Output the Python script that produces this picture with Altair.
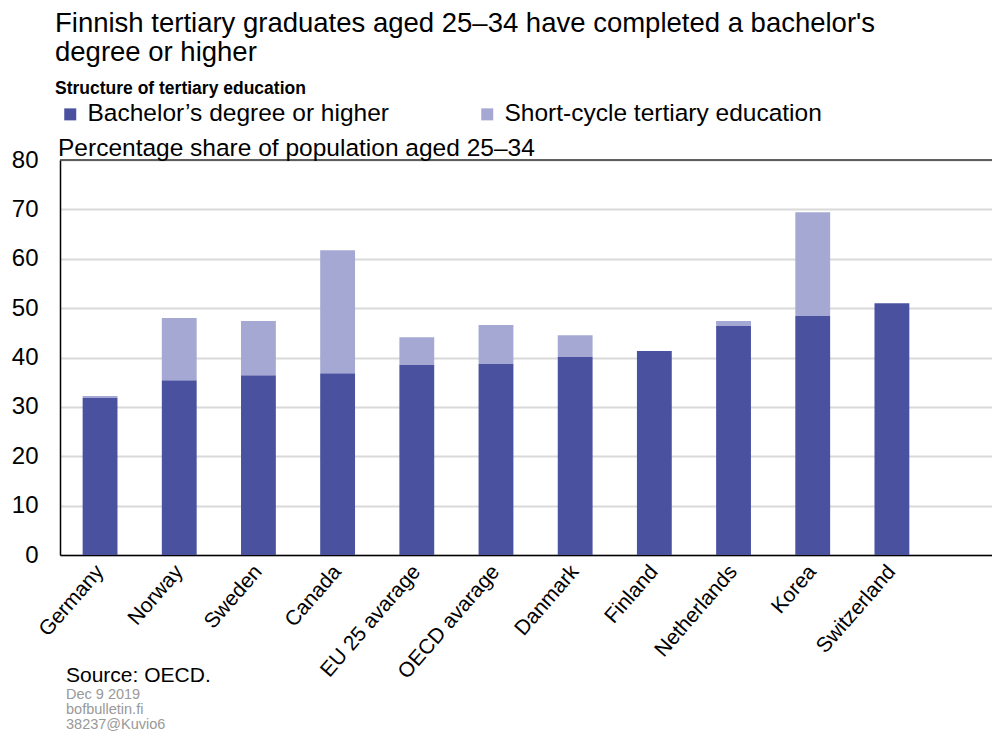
import altair as alt
import pandas as pd

countries = ["Germany", "Norway", "Sweden", "Canada", "EU 25 avarage", "OECD avarage",
             "Danmark", "Finland", "Netherlands", "Korea", "Switzerland"]
bachelor = [31.8, 35.4, 36.4, 36.8, 38.5, 38.7, 40.1, 41.3, 46.4, 48.4, 51.0]
short_cycle = [0.4, 12.6, 11.0, 24.9, 5.6, 7.9, 4.4, 0.0, 1.0, 21.0, 0.0]
series = ["Bachelor\u2019s degree or higher", "Short-cycle tertiary education"]
colors = ["#4a52a0", "#a4a8d3"]
y_ticks = [0, 10, 20, 30, 40, 50, 60, 70, 80]

rows = []
for c, b, s in zip(countries, bachelor, short_cycle):
    rows.append({"country": c, "series": series[0], "value": b, "ord": 0})
    rows.append({"country": c, "series": series[1], "value": s, "ord": 1})
df = pd.DataFrame(rows)

FONT = "Liberation Sans"

bars = alt.Chart(df).mark_bar().encode(
    x=alt.X("country:N", sort=countries,
            scale=alt.Scale(domain=countries, paddingInner=0.56, paddingOuter=0.665, align=0.215),
            axis=alt.Axis(title=None, labelAngle=-49, labelFontSize=21, labelColor="black",
                          labelFont=FONT, ticks=False, domainColor="black", domainWidth=1.5,
                          labelPadding=13, labelAlign="right", labelBaseline="middle")),
    y=alt.Y("value:Q", stack="zero",
            scale=alt.Scale(domain=[0, 80], nice=False),
            axis=alt.Axis(title=None, values=y_ticks, labelFontSize=24, labelColor="black",
                          labelFont=FONT, ticks=False, labelPadding=22, domainColor="black",
                          domainWidth=1.5, gridColor="#d9d9d9", gridWidth=2)),
    color=alt.Color("series:N", scale=alt.Scale(domain=series, range=colors),
                    legend=alt.Legend(title=None, orient="none", legendX=-2, legendY=-58,
                                      direction="horizontal", symbolType="square",
                                      symbolSize=144, symbolStrokeWidth=0,
                                      labelFontSize=24.5, labelFont=FONT, labelColor="black",
                                      columnPadding=86, labelOffset=5, labelLimit=600)),
    order=alt.Order("ord:Q"),
)

top_line = alt.Chart(pd.DataFrame({"y": [80]})).mark_rule(color="#333333", strokeWidth=1.5).encode(
    y=alt.Y("y:Q")
)

def txt(t, x, y, size, color="black", weight="normal"):
    return alt.Chart(pd.DataFrame({"t": [t]})).mark_text(
        align="left", baseline="alphabetic", font=FONT, fontSize=size,
        color=color, fontWeight=weight
    ).encode(x=alt.value(x), y=alt.value(y), text="t:N")

texts = [
    txt("Finnish tertiary graduates aged 25\u201334 have completed a bachelor's", -5, -128, 27.5),
    txt("degree or higher", -5, -99, 27.5),
    txt("Structure of tertiary education", -5, -66, 17.5, weight="bold"),
    txt("Percentage share of population aged 25\u201334", -2, -4, 24.5),
    txt("Source: OECD.", 6, 522, 21),
    txt("Dec 9 2019", 6, 539, 14.5, color="#999999"),
    txt("bofbulletin.fi", 6, 554, 14.5, color="#999999"),
    txt("38237@Kuvio6", 6, 569, 14.5, color="#999999"),
]

chart = alt.layer(bars, top_line, *texts).properties(
    width=932, height=395,
    autosize=alt.AutoSizeParams(type="none"),
    padding={"left": 52, "top": 152, "right": 0, "bottom": 179},
).configure_view(stroke=None).configure(font=FONT)

chart.save("out.html", embed_options={"renderer": "svg", "actions": False})
